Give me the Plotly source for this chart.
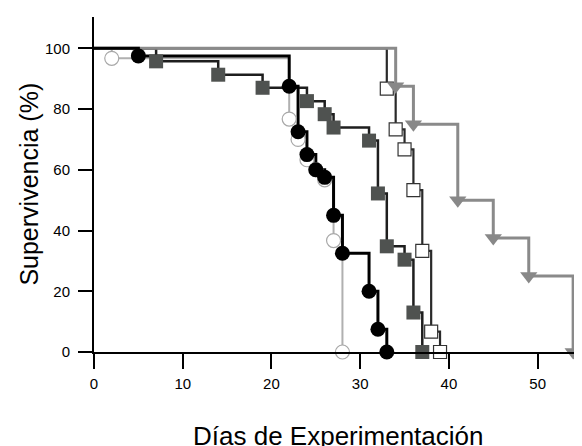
import plotly.graph_objects as go

# Days (x) and survival % (y) for each group
open_circle_days = [0, 2, 22, 23, 24, 25, 26, 27, 28]
open_circle_surv = [100, 96.7, 76.7, 70, 63.3, 60, 56.7, 36.7, 0]

black_circle_days = [0, 5, 22, 23, 24, 25, 26, 27, 28, 31, 32, 33]
black_circle_surv = [100, 97.5, 87.5, 72.5, 65, 60, 57.5, 45, 32.5, 20, 7.5, 0]

gray_square_days = [0, 7, 14, 19, 24, 26, 27, 31, 32, 33, 35, 36, 37]
gray_square_surv = [100, 95.7, 91.3, 87, 82.6, 78.3, 73.9, 69.6, 52.2, 34.8, 30.4, 13, 0]

open_square_days = [0, 33, 34, 35, 36, 37, 38, 39]
open_square_surv = [100, 86.7, 73.3, 66.7, 53.3, 33.3, 6.7, 0]

triangle_days = [0, 34, 36, 41, 45, 49, 54]
triangle_surv = [100, 87.5, 75, 50, 37.5, 25, 0]

x_ticks = [0, 10, 20, 30, 40, 50]
y_ticks = [0, 20, 40, 60, 80, 100]

series = [
    dict(x=open_circle_days, y=open_circle_surv, lc="#b0b0b0", lw=2,
         sym="circle", fill="white", edge="#a8a8a8", ew=1.2, size=14),
    dict(x=gray_square_days, y=gray_square_surv, lc="#1e1e1e", lw=2.5,
         sym="square", fill="#4f5250", edge="#4f5250", ew=0, size=14),
    dict(x=open_square_days, y=open_square_surv, lc="#2a2a2a", lw=2.2,
         sym="square", fill="white", edge="#333333", ew=1.2, size=13),
    dict(x=triangle_days, y=triangle_surv, lc="#8a8a8a", lw=3,
         sym="triangle-down", fill="#888888", edge="#888888", ew=0, size=15),
    dict(x=black_circle_days, y=black_circle_surv, lc="#000000", lw=3,
         sym="circle", fill="#000000", edge="#000000", ew=0, size=15),
]

fig = go.Figure()
for s in series:
    fig.add_trace(go.Scatter(x=s["x"], y=s["y"], mode="lines",
                             line=dict(shape="hv", color=s["lc"], width=s["lw"]),
                             cliponaxis=False, showlegend=False, hoverinfo="skip"))
for s in series:
    fig.add_trace(go.Scatter(x=s["x"][1:], y=s["y"][1:], mode="markers",
                             marker=dict(symbol=s["sym"], color=s["fill"], size=s["size"],
                                         line=dict(color=s["edge"], width=s["ew"])),
                             cliponaxis=False, showlegend=False))

fig.update_layout(
    width=582, height=446,
    margin=dict(l=86, r=8, t=9, b=102),
    paper_bgcolor="white", plot_bgcolor="white",
    font=dict(family="Liberation Sans, Arial, sans-serif", color="black"),
    xaxis=dict(range=[0, 55], tickvals=x_ticks, ticks="outside", ticklen=15,
               tickwidth=2, tickcolor="black", showline=True, linecolor="black",
               linewidth=2, showgrid=False, zeroline=False, ticklabelstandoff=2,
               tickfont=dict(size=15)),
    yaxis=dict(range=[0, 110.3], tickvals=y_ticks, ticks="outside", ticklen=14,
               tickwidth=2, tickcolor="black", showline=True, linecolor="black",
               linewidth=2, showgrid=False, zeroline=False, ticklabelstandoff=5,
               tickfont=dict(size=15)),
    annotations=[
        dict(text="Supervivencia (%)", xref="paper", yref="paper", x=-0.135, y=0.5,
             xanchor="center", yanchor="middle", textangle=-90, showarrow=False,
             font=dict(size=25)),
        dict(text="Días de Experimentación", xref="paper", yref="paper", x=0.5, y=-0.2,
             xanchor="center", yanchor="top", showarrow=False, font=dict(size=26)),
    ],
)

fig.write_html("out.html")
